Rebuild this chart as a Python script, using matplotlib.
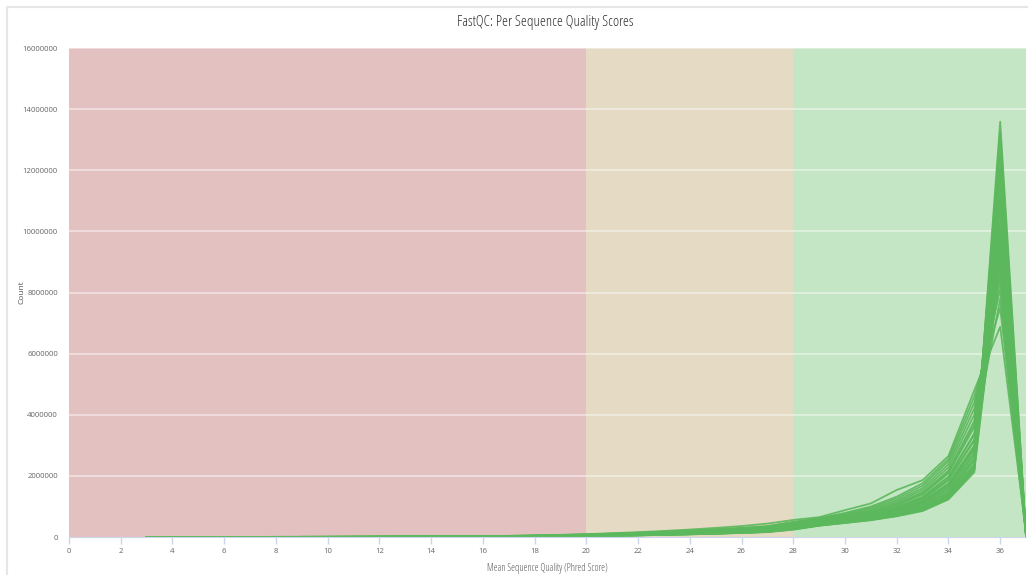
import matplotlib
matplotlib.use("Agg")
import matplotlib.pyplot as plt
from matplotlib.patches import Rectangle

# Phred score bins (x axis)
quality = [3, 4, 5, 6, 7, 8, 9, 10, 11, 12, 13, 14, 15, 16, 17, 18, 19, 20,
           21, 22, 23, 24, 25, 26, 27, 28, 29, 30, 31, 32, 33, 34, 35, 36, 37]

# Read counts per sample, in thousands, one row per sample (q3 .. q37)
sample_counts = [
    [0, 1, 1, 1, 2, 2, 2, 3, 3, 4, 5, 6, 8, 10, 13, 17, 23, 31, 41, 54, 70, 88, 108, 132, 160, 240, 370, 460, 550, 680, 850, 1230, 2120, 13590, 40],
    [0, 1, 1, 1, 2, 2, 2, 3, 4, 4, 5, 7, 8, 11, 14, 18, 24, 32, 43, 56, 72, 91, 112, 137, 168, 260, 385, 480, 575, 710, 890, 1300, 2250, 13250, 60],
    [1, 1, 1, 2, 2, 2, 3, 3, 4, 5, 6, 8, 10, 13, 17, 23, 31, 42, 56, 72, 90, 110, 134, 162, 196, 280, 400, 500, 600, 740, 940, 1380, 2400, 12900, 90],
    [1, 1, 1, 2, 2, 3, 3, 4, 4, 5, 7, 8, 11, 14, 18, 24, 32, 43, 57, 74, 93, 114, 139, 168, 204, 300, 415, 515, 625, 780, 990, 1460, 2550, 12500, 50],
    [1, 1, 1, 2, 2, 3, 3, 4, 5, 6, 7, 9, 11, 14, 19, 25, 34, 45, 60, 77, 96, 118, 144, 175, 212, 310, 430, 535, 650, 820, 1050, 1560, 2700, 12100, 110],
    [1, 1, 2, 2, 3, 3, 4, 5, 6, 7, 9, 11, 14, 18, 24, 32, 43, 58, 76, 96, 118, 142, 170, 204, 244, 330, 445, 555, 680, 860, 1110, 1650, 2850, 11800, 30],
    [1, 1, 2, 2, 3, 4, 4, 5, 6, 8, 9, 12, 15, 19, 25, 34, 45, 61, 80, 101, 124, 150, 180, 216, 258, 350, 460, 580, 710, 900, 1180, 1760, 3000, 11400, 120],
    [0, 1, 1, 1, 2, 2, 3, 3, 4, 4, 5, 7, 9, 11, 14, 19, 25, 34, 45, 59, 76, 96, 118, 144, 175, 270, 390, 490, 590, 730, 920, 1330, 2300, 11100, 70],
    [1, 1, 2, 2, 3, 4, 5, 5, 7, 8, 10, 12, 15, 20, 26, 35, 47, 63, 83, 105, 129, 156, 187, 224, 268, 360, 475, 600, 740, 950, 1250, 1880, 3200, 10900, 100],
    [1, 1, 1, 2, 2, 3, 3, 4, 5, 5, 7, 8, 10, 14, 18, 24, 32, 44, 58, 75, 94, 116, 141, 171, 206, 290, 405, 510, 615, 770, 980, 1420, 2500, 10600, 140],
    [1, 2, 2, 2, 3, 4, 5, 6, 7, 8, 10, 13, 16, 21, 27, 36, 48, 65, 86, 109, 134, 162, 194, 233, 280, 380, 495, 625, 775, 1000, 1320, 1980, 3400, 10300, 55],
    [1, 1, 1, 2, 2, 3, 3, 4, 5, 6, 7, 9, 11, 15, 19, 26, 35, 47, 62, 80, 100, 122, 148, 180, 218, 320, 440, 550, 670, 850, 1090, 1600, 2750, 10000, 125],
    [1, 2, 2, 3, 3, 4, 5, 6, 7, 9, 11, 13, 17, 22, 28, 38, 51, 68, 90, 114, 140, 170, 204, 244, 292, 400, 515, 650, 810, 1050, 1390, 2080, 3600, 9800, 80],
    [0, 1, 1, 1, 2, 2, 2, 3, 3, 4, 5, 6, 8, 10, 13, 18, 24, 32, 43, 57, 74, 93, 114, 140, 170, 260, 380, 470, 565, 700, 880, 1280, 2200, 9600, 145],
    [1, 2, 2, 3, 3, 4, 5, 6, 7, 9, 11, 14, 18, 22, 30, 40, 54, 72, 94, 118, 144, 174, 208, 248, 296, 420, 535, 675, 840, 1100, 1460, 2180, 3800, 9400, 25],
    [1, 1, 2, 2, 3, 3, 4, 5, 6, 7, 9, 11, 14, 18, 24, 32, 43, 58, 77, 97, 120, 145, 174, 209, 250, 340, 455, 570, 700, 890, 1160, 1720, 2950, 9200, 115],
    [1, 2, 2, 3, 4, 4, 5, 6, 8, 9, 12, 15, 19, 24, 32, 43, 57, 76, 99, 124, 152, 184, 220, 262, 312, 440, 555, 700, 880, 1150, 1530, 2280, 4000, 9000, 135],
    [1, 1, 1, 2, 2, 3, 3, 4, 5, 6, 7, 9, 11, 14, 18, 25, 33, 45, 59, 76, 95, 117, 142, 172, 208, 300, 420, 525, 640, 800, 1020, 1500, 2600, 8800, 150],
    [2, 2, 3, 3, 4, 5, 6, 7, 8, 10, 12, 15, 19, 25, 33, 45, 60, 80, 104, 130, 160, 194, 232, 276, 328, 460, 580, 730, 920, 1200, 1600, 2380, 4200, 8600, 65],
    [1, 1, 2, 2, 3, 4, 4, 5, 6, 8, 9, 12, 15, 19, 25, 33, 45, 60, 79, 100, 123, 149, 179, 214, 256, 360, 470, 595, 730, 940, 1230, 1850, 3150, 8400, 150],
    [2, 2, 3, 3, 4, 5, 6, 7, 9, 10, 13, 16, 20, 26, 35, 47, 63, 84, 109, 136, 168, 203, 243, 289, 344, 480, 600, 760, 960, 1260, 1680, 2480, 4400, 8100, 95],
    [1, 1, 2, 2, 3, 4, 5, 5, 7, 8, 10, 12, 15, 20, 26, 34, 46, 62, 81, 103, 127, 154, 185, 221, 264, 370, 485, 610, 755, 975, 1290, 1940, 3350, 7800, 140],
    [2, 2, 3, 4, 4, 5, 6, 8, 9, 11, 14, 17, 21, 28, 37, 49, 66, 88, 114, 143, 176, 213, 255, 304, 362, 500, 620, 790, 1000, 1320, 1760, 2560, 4600, 7500, 45],
    [2, 2, 3, 4, 5, 6, 7, 9, 11, 14, 17, 21, 25, 30, 40, 54, 72, 96, 126, 160, 200, 245, 300, 360, 440, 560, 650, 880, 1100, 1540, 1860, 2650, 4800, 6880, 150],
    [0, 1, 1, 1, 2, 2, 3, 3, 4, 5, 5, 7, 9, 11, 15, 20, 27, 36, 47, 62, 80, 100, 123, 150, 182, 280, 395, 495, 595, 735, 930, 1360, 2350, 12000, 35],
    [1, 1, 1, 2, 2, 3, 3, 4, 5, 6, 7, 9, 12, 15, 20, 27, 36, 49, 65, 83, 104, 127, 154, 187, 226, 330, 450, 560, 690, 875, 1140, 1690, 2900, 11000, 118],
    [1, 2, 2, 3, 3, 4, 5, 6, 7, 9, 11, 14, 17, 23, 30, 41, 55, 73, 96, 120, 147, 178, 213, 254, 302, 410, 520, 660, 820, 1070, 1420, 2120, 3700, 10100, 85],
    [0, 1, 1, 1, 2, 2, 2, 3, 4, 4, 5, 6, 8, 10, 14, 18, 24, 33, 44, 58, 75, 94, 116, 142, 172, 250, 375, 465, 560, 690, 870, 1250, 2180, 9300, 142],
]

x_ticks = [0, 2, 4, 6, 8, 10, 12, 14, 16, 18, 20, 22, 24, 26, 28, 30, 32, 34, 36]
y_ticks = [0, 2000000, 4000000, 6000000, 8000000, 10000000, 12000000, 14000000, 16000000]

# pass / warn / fail zones
zones = [(0, 20, "#e4c1c1"), (20, 28, "#e5dac3"), (28, 37, "#c4e6c4")]

plt.rcParams['font.family'] = ['Open Sans', 'DejaVu Sans']

fig = plt.figure(figsize=(10.28, 5.75), dpi=100)
ax = fig.add_axes([0.0671, 0.066, 0.931, 0.8505])

# light panel border
fig.patches.append(Rectangle((7 / 1028, -0.1), 1.2, 1 - 7 / 575 + 0.1,
                             transform=fig.transFigure, fill=False,
                             edgecolor="#e6e6e6", linewidth=1.5))

for x0, x1, c in zones:
    ax.axvspan(x0, x1, color=c, zorder=0, linewidth=0)

for yt in y_ticks[1:]:
    ax.axhline(yt, color="white", alpha=0.55, linewidth=1.1, zorder=1)

for row in sample_counts:
    ax.plot(quality, [v * 1000 for v in row], color="#5cb85c", linewidth=1.3,
            alpha=0.9, zorder=2)

ax.set_xlim(0, 37)
ax.set_ylim(0, 16000000)
ax.set_xticks(x_ticks)
ax.set_yticks(y_ticks)
ax.set_yticklabels([str(v) for v in y_ticks])
ax.tick_params(axis="x", colors="#ccd6eb", length=5, width=1, labelsize=5.6,
               labelcolor="#666666", pad=3)
ax.tick_params(axis="y", length=0, labelsize=5.6, labelcolor="#666666", pad=8)

for side in ["top", "right", "left"]:
    ax.spines[side].set_visible(False)
ax.spines["bottom"].set_color("#ccd6eb")

ax.set_xlabel("Mean Sequence Quality (Phred Score)", fontsize=7,
              color="#555555", labelpad=6, fontstretch="condensed")
ax.set_ylabel("Count", fontsize=6, color="#555555")
ax.yaxis.set_label_coords(-0.045, 0.5)
fig.text(0.53, 0.961, "FastQC: Per Sequence Quality Scores", ha="center",
         va="center", fontsize=10.8, color="#333333", fontstretch="condensed")

fig.savefig("out.png", dpi=100)
